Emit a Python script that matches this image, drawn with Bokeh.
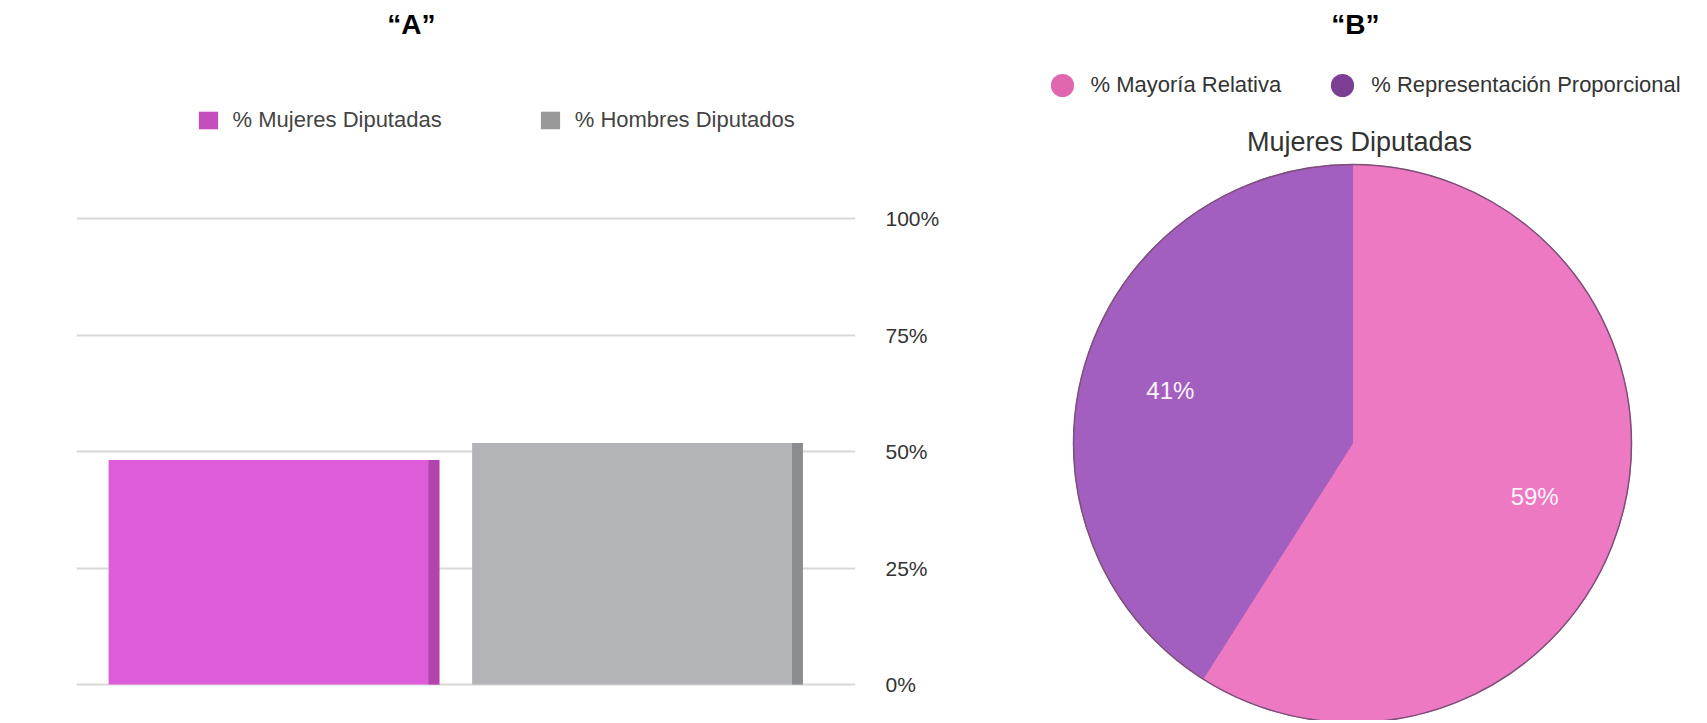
import numpy as np
from bokeh.plotting import figure
from bokeh.layouts import row
from bokeh.models import (Range1d, FixedTicker, Legend, LegendItem, Label,
                          ColumnDataSource)
from bokeh.transform import dodge
from bokeh.embed import file_html
from bokeh.resources import INLINE
from bokeh.core.properties import value

# ---------------- data ----------------
panel_titles = ["“A”", "“B”"]

bar_categories = ["% Mujeres Diputadas", "% Hombres Diputados"]
bar_values = [48.2, 51.8]
bar_colors = ["#DE5CD8", "#B3B4B8"]
bar_edge_colors = ["#A83FA3", "#818286"]
bar_legend_colors = ["#C44DBE", "#999999"]
y_ticks = [0, 25, 50, 75, 100]
y_tick_labels = ["0%", "25%", "50%", "75%", "100%"]

pie_title = "Mujeres Diputadas"
pie_categories = ["% Mayoría Relativa", "% Representación Proporcional"]
pie_values = [59, 41]
pie_colors = ["#EE79C3", "#A35FBF"]
pie_legend_colors = ["#E066AE", "#7C3F94"]

FONT = "Liberation Sans"
H = 720

# ---------------- panel A: bars ----------------
pA = figure(width=968, height=H, output_backend="svg", toolbar_location=None,
            x_range=Range1d(-0.5433, 1.5997),
            y_range=Range1d(-(H - 684) / 4.66, 100 + 218 / 4.66),
            min_border_left=76, min_border_right=113, min_border_top=0,
            min_border_bottom=0, x_axis_location=None, y_axis_location="right")
pA.outline_line_color = None
pA.xgrid.visible = False
pA.yaxis.ticker = FixedTicker(ticks=y_ticks)
pA.ygrid.ticker = FixedTicker(ticks=y_ticks)
pA.yaxis.major_label_overrides = {t: l for t, l in zip(y_ticks, y_tick_labels)}
pA.yaxis.axis_line_color = None
pA.yaxis.major_tick_line_color = None
pA.yaxis.minor_tick_line_color = None
pA.yaxis.major_label_standoff = 24
pA.yaxis.major_label_text_font = FONT
pA.yaxis.major_label_text_font_size = "21px"
pA.yaxis.major_label_text_color = "#333333"
pA.ygrid.grid_line_color = "#d8d8d8"
pA.ygrid.grid_line_width = 2

srcA = ColumnDataSource(dict(x=list(range(len(bar_values))), top=bar_values,
                             color=bar_colors, edge=bar_edge_colors,
                             label=bar_categories))
pA.vbar(x="x", top="top", bottom=0, width=0.91, fill_color="color",
        line_color=None, source=srcA)
# darker right edge for a little depth
pA.vbar(x=dodge("x", 0.44, range=pA.x_range), top="top", bottom=0, width=0.03,
        fill_color="edge", line_color=None, fill_alpha=0.8, source=srcA)

# legend-only renderers (no visible mark on the plot)
legA_src = ColumnDataSource(dict(x=[np.nan], top=[np.nan]))
legA_r = [pA.vbar(x="x", top="top", bottom=0, width=0.5, fill_color=c,
                  line_color=None, source=legA_src)
          for c in bar_legend_colors]
legA = Legend(items=[LegendItem(label=lab, renderers=[r])
                     for lab, r in zip(bar_categories, legA_r)],
              orientation="horizontal", location=(119.6, H - 132.5),
              glyph_width=24, glyph_height=22, label_standoff=13, spacing=96,
              padding=0, margin=0, border_line_color=None,
              background_fill_alpha=0, label_text_font=FONT,
              label_text_font_size="22px", label_text_color="#444444")
pA.add_layout(legA)

pA.add_layout(Label(x=0.378, y=141.6, text=panel_titles[0], text_align="center",
                    text_baseline="middle", text_font=FONT,
                    text_font_size="28px", text_font_style="bold",
                    text_color="#000000"))

# ---------------- panel B: pie ----------------
R = 279.0
pB = figure(width=739, height=H, output_backend="svg", toolbar_location=None,
            x_range=Range1d(-384 / R, (739 - 384) / R),
            y_range=Range1d(-(H - 443) / R, 443 / R),
            min_border=0, x_axis_location=None, y_axis_location=None)
pB.outline_line_color = None
pB.grid.visible = False

fr = np.array(pie_values, dtype=float) / sum(pie_values)
cum = np.concatenate([[0.0], np.cumsum(fr)])
start = np.pi / 2 - 2 * np.pi * cum[1:]
end = np.pi / 2 - 2 * np.pi * cum[:-1]
mid = (start + end) / 2
srcB = ColumnDataSource(dict(start=start, end=end, color=pie_colors,
                             lx=0.68 * np.cos(mid), ly=0.68 * np.sin(mid),
                             txt=[f"{v}%" for v in pie_values]))
pB.wedge(x=0, y=0, radius=1, start_angle="start", end_angle="end",
         fill_color="color", line_color="color", source=srcB)
pB.circle(x=0, y=0, radius=1, fill_color=None, line_color="#7d4f78",
          line_width=1.5)
pB.text(x="lx", y="ly", text="txt", text_color="#FDF3FA",
        text_font=value(FONT), text_font_size="24px", text_align="center",
        text_baseline="middle", source=srcB)

legend_src = ColumnDataSource(dict(x=[np.nan], y=[np.nan]))
dummies = [pB.scatter(x="x", y="y", marker="circle", fill_color=c,
                      line_color=None, source=legend_src)
           for c in pie_legend_colors]
legB = Legend(items=[LegendItem(label=lab, renderers=[d])
                     for lab, d in zip(pie_categories, dummies)],
              orientation="horizontal", location=(64.5, H - 114),
              glyph_width=58, glyph_height=58, label_standoff=0, spacing=32,
              padding=0, margin=0, border_line_color=None,
              background_fill_alpha=0, label_text_font=FONT,
              label_text_font_size="22px", label_text_color="#333333")
pB.add_layout(legB)

pB.add_layout(Label(x=0.025, y=1.082, text=pie_title, text_align="center",
                    text_baseline="middle", text_font=FONT,
                    text_font_size="27px", text_color="#333333"))
pB.add_layout(Label(x=0.01, y=1.502, text=panel_titles[1], text_align="center",
                    text_baseline="middle", text_font=FONT,
                    text_font_size="28px", text_font_style="bold",
                    text_color="#000000"))

layout = row(pA, pB)
open("out.html", "w").write(file_html(layout, INLINE))
